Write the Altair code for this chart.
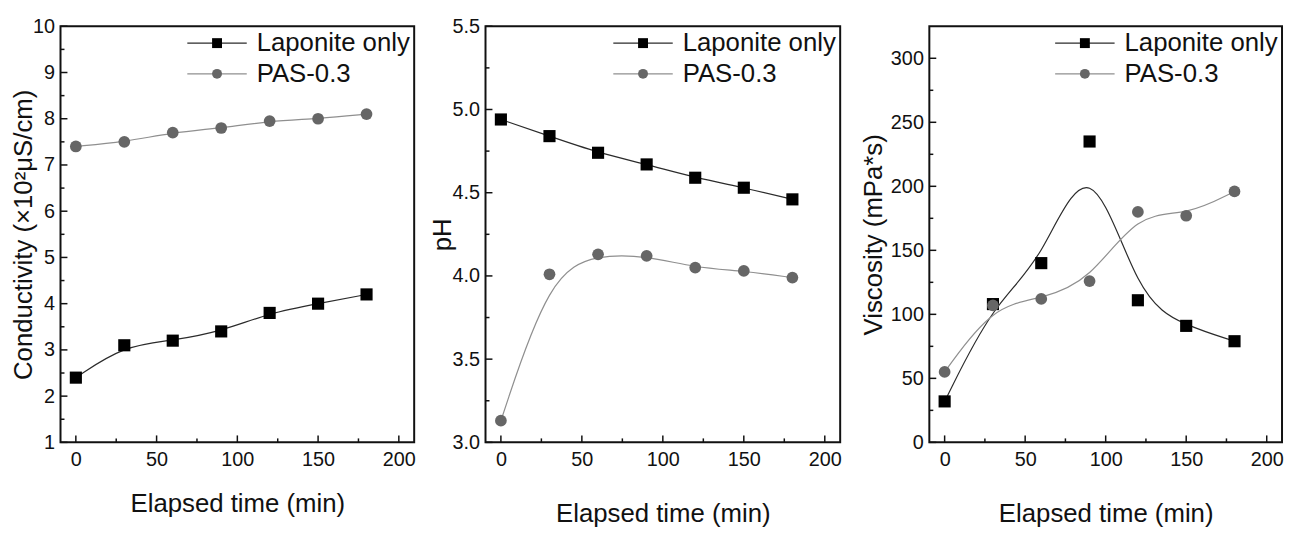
import altair as alt
import pandas as pd

# ---------------- data ----------------
time_min = [0, 30, 60, 90, 120, 150, 180]
series_names = ["Laponite only", "PAS-0.3"]

cond_laponite = [2.4, 3.1, 3.2, 3.4, 3.8, 4.0, 4.2]
cond_pas = [7.4, 7.5, 7.7, 7.8, 7.95, 8.0, 8.1]

ph_laponite = [4.94, 4.84, 4.74, 4.67, 4.59, 4.53, 4.46]
ph_pas = [3.13, 4.01, 4.13, 4.12, 4.05, 4.03, 3.99]

visc_laponite = [32, 108, 140, 235, 111, 91, 79]
visc_pas = [55, 107, 112, 126, 180, 177, 196]

x_major = [0, 50, 100, 150, 200]
x_minor = [25, 75, 125, 175]
cond_major = [1, 2, 3, 4, 5, 6, 7, 8, 9, 10]
cond_minor = [1.5, 2.5, 3.5, 4.5, 5.5, 6.5, 7.5, 8.5, 9.5]
ph_major = [3.0, 3.5, 4.0, 4.5, 5.0, 5.5]
ph_minor = [3.25, 3.75, 4.25, 4.75, 5.25]
visc_major = [0, 50, 100, 150, 200, 250, 300]
visc_minor = [25, 75, 125, 175, 225, 275]

FONT = "Liberation Sans"
H = 420
LINE_COLORS = ["#2b2b2b", "#8f8f8f"]
MARK_COLORS = ["#000000", "#666666"]
SHAPES = ["square", "circle"]


def panel(lap, pas, ydomain, ymajor, yminor, yfmt, ytitle, pw, view_w, ytitle_x, xtitle_y):
    df = pd.DataFrame({
        "t": time_min * 2,
        "v": lap + pas,
        "s": [series_names[0]] * len(time_min) + [series_names[1]] * len(time_min),
    })
    x_enc = alt.X(
        "t:Q",
        scale=alt.Scale(domain=[-9.5, 209.5], nice=False, zero=False, range=[0, pw]),
        axis=alt.Axis(values=x_major, title="Elapsed time (min)", labelPadding=7,
                      titleX=pw / 2, titleY=xtitle_y, titleBaseline="middle",
                      labelFlush=False, labelOverlap=False),
    )
    y_enc = alt.Y(
        "v:Q",
        scale=alt.Scale(domain=ydomain, nice=False, zero=False),
        axis=alt.Axis(values=ymajor, format=yfmt, title=ytitle, labelPadding=6,
                      titleX=ytitle_x, titleY=H / 2, titleBaseline="middle",
                      titleAlign="center", labelFlush=False, labelOverlap=False),
    )

    lines = alt.Chart(df).mark_line(interpolate="basis", strokeWidth=1.2).encode(
        x=x_enc, y=y_enc,
        color=alt.Color("s:N", scale=alt.Scale(domain=series_names, range=LINE_COLORS), legend=None),
    )
    points = alt.Chart(df).mark_point(filled=True, opacity=1).encode(
        x=x_enc, y=y_enc,
        shape=alt.Shape("s:N", scale=alt.Scale(domain=series_names, range=SHAPES), legend=None),
        fill=alt.Fill("s:N", scale=alt.Scale(domain=series_names, range=MARK_COLORS), legend=None),
        size=alt.Size("s:N", scale=alt.Scale(domain=series_names, range=[150, 140]), legend=None),
    )

    one = pd.DataFrame({"k": [0]})
    frame = alt.Chart(one).mark_rect(filled=False, stroke="#111", strokeWidth=2).encode(
        x=alt.value(0), x2=alt.value(pw), y=alt.value(0), y2=alt.value(H))

    xt_major = alt.Chart(pd.DataFrame({"t": x_major})).mark_rule(color="#111", strokeWidth=1.5).encode(
        x=x_enc, y=alt.value(H), y2=alt.value(H - 7))
    xt_minor = alt.Chart(pd.DataFrame({"t": x_minor})).mark_rule(color="#111", strokeWidth=1.5).encode(
        x=x_enc, y=alt.value(H), y2=alt.value(H - 4))
    yt_major = alt.Chart(pd.DataFrame({"v": ymajor})).mark_rule(color="#111", strokeWidth=1.5).encode(
        y=y_enc, x=alt.value(0), x2=alt.value(7))
    yt_minor = alt.Chart(pd.DataFrame({"v": yminor})).mark_rule(color="#111", strokeWidth=1.5).encode(
        y=y_enc, x=alt.value(0), x2=alt.value(4))

    legend_layers = []
    rows = [17, 48]
    for i, name in enumerate(series_names):
        ldf = pd.DataFrame({"s": [name]})
        legend_layers.append(
            alt.Chart(ldf).mark_rule(color=LINE_COLORS[i], strokeWidth=1.2).encode(
                x=alt.value(pw - 229), x2=alt.value(pw - 169), y=alt.value(rows[i])))
        legend_layers.append(
            alt.Chart(ldf).mark_point(shape=SHAPES[i], filled=True, opacity=1,
                                      fill=MARK_COLORS[i], size=100).encode(
                x=alt.value(pw - 199), y=alt.value(rows[i])))
        legend_layers.append(
            alt.Chart(ldf).mark_text(align="left", baseline="middle", font=FONT,
                                     fontSize=26, color="#111").encode(
                x=alt.value(pw - 159), y=alt.value(rows[i]), text="s:N"))

    return alt.layer(lines, points, frame, xt_major, xt_minor, yt_major, yt_minor,
                     *legend_layers).resolve_scale(color="independent").properties(
        width=view_w, height=H)


p1 = panel(cond_laponite, cond_pas, [1, 10], cond_major, cond_minor, "d",
           "Conductivity (×10²μS/cm)", 357, 357, -37, 62)
p2 = panel(ph_laponite, ph_pas, [3.0, 5.5], ph_major, ph_minor, ".1f",
           "pH", 358, 376, -43, 72)
p3 = panel(visc_laponite, visc_pas, [0, 325], visc_major, visc_minor, "d",
           "Viscosity (mPa*s)", 356, 356, -56, 72)

chart = alt.hconcat(p1, p2, p3, spacing=72, bounds="flush").properties(
    padding={"left": 3, "top": 6, "right": 0, "bottom": 0},
    background="white",
).configure_view(
    stroke="transparent", strokeWidth=0
).configure_axis(
    domain=False, ticks=False, tickSize=0, grid=False,
    labelFont=FONT, labelFontSize=20, labelColor="#111",
    titleFont=FONT, titleFontSize=26, titleFontWeight="normal", titleColor="#111",
)

chart.save("out.html", embed_options={"renderer": "svg", "actions": False})
